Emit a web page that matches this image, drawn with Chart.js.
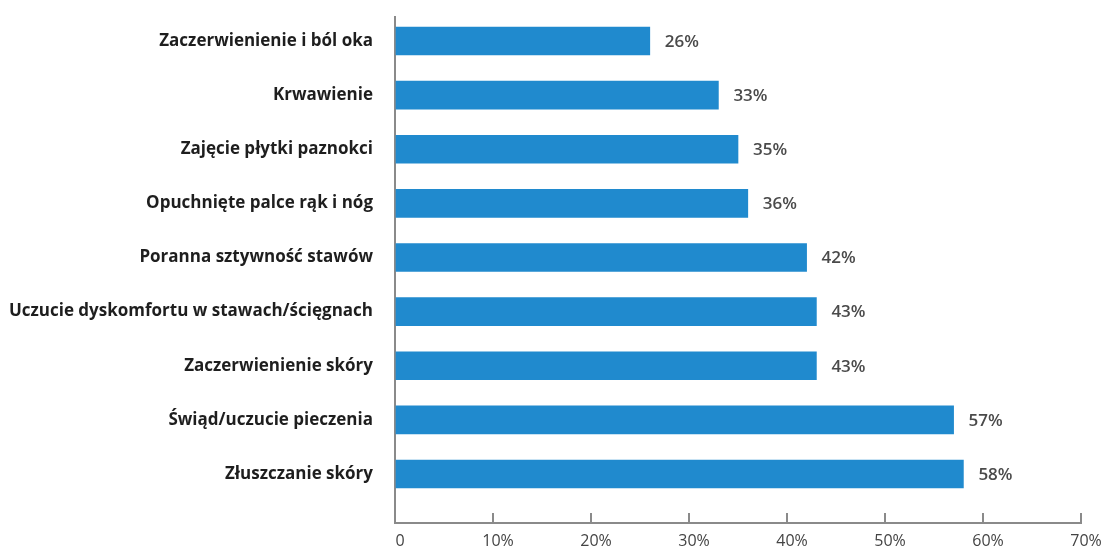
<!DOCTYPE html>
<html>
<head>
<meta charset="utf-8">
<script src="https://cdn.jsdelivr.net/npm/chart.js@4/dist/chart.umd.min.js"></script>
<style>
  html, body { margin: 0; padding: 0; background: #fff; }
  #wrap { width: 1105px; height: 550px; }
</style>
</head>
<body>
<div id="wrap"><canvas id="myChart"></canvas></div>
<script>
// data
var symptoms = [
  "Zaczerwienienie i ból oka",
  "Krwawienie",
  "Zajęcie płytki paznokci",
  "Opuchnięte palce rąk i nóg",
  "Poranna sztywność stawów",
  "Uczucie dyskomfortu w stawach/ścięgnach",
  "Zaczerwienienie skóry",
  "Świąd/uczucie pieczenia",
  "Złuszczanie skóry"
];
var percents = [26, 33, 35, 36, 42, 43, 43, 57, 58];
var xTicks = [0, 10, 20, 30, 40, 50, 60, 70];

// value labels at the end of every bar
var valueLabels = {
  id: "valueLabels",
  afterDatasetsDraw: function (chart) {
    var ctx = chart.ctx;
    var meta = chart.getDatasetMeta(0);
    ctx.save();
    ctx.font = "600 17px 'Open Sans'";
    ctx.fillStyle = "#4a4a4a";
    ctx.textAlign = "left";
    ctx.textBaseline = "middle";
    meta.data.forEach(function (bar, i) {
      ctx.fillText(percents[i] + "%", bar.x + 15, bar.y + 1);
    });
    ctx.restore();
  }
};

var ctx = document.getElementById("myChart");
var myChart = new Chart(ctx, {
  type: "bar",
  data: {
    datasets: [{
      data: percents.map(function (v, i) { return { x: v, y: i }; }),
      backgroundColor: "#208ace",
      borderWidth: 0,
      barThickness: 28
    }]
  },
  options: {
    indexAxis: "y",
    responsive: true,
    maintainAspectRatio: false,
    animation: false,
    layout: { padding: { top: 17, right: 24, left: 0, bottom: 0 } },
    plugins: { legend: { display: false }, tooltip: { enabled: false } },
    scales: {
      y: {
        type: "linear",
        reverse: true,
        offset: false,
        min: -0.4434,
        max: 8.905,
        afterBuildTicks: function (scale) {
          scale.ticks = symptoms.map(function (s, i) { return { value: i }; });
        },
        afterFit: function (scale) {
          scale.width = 395;
          scale.paddingTop = 0;
          scale.paddingBottom = 0;
        },
        grid: { display: false, drawTicks: false, offset: false },
        border: { display: true, color: "#8a8a8a", width: 2 },
        ticks: {
          padding: 22,
          color: "#1e1e1e",
          font: { family: "'Open Sans'", size: 17, weight: "bold" },
          callback: function (v) { return symptoms[v]; }
        }
      },
      x: {
        type: "linear",
        min: 0,
        max: 70,
        afterBuildTicks: function (scale) {
          scale.ticks = xTicks.map(function (v) { return { value: v }; });
        },
        afterFit: function (scale) {
          scale.height = 27;
          scale.paddingLeft = 0;
          scale.paddingRight = 0;
        },
        grid: { drawOnChartArea: false, drawTicks: true, tickLength: -10, color: "#8a8a8a", lineWidth: 2 },
        border: { display: true, color: "#8a8a8a", width: 2 },
        ticks: {
          padding: 19,
          labelOffset: 5,
          color: "#444",
          font: { family: "'Open Sans'", size: 16 },
          callback: function (v) { return v === 0 ? "0" : v + "%"; }
        }
      }
    }
  },
  plugins: [valueLabels]
});
</script>
</body>
</html>
